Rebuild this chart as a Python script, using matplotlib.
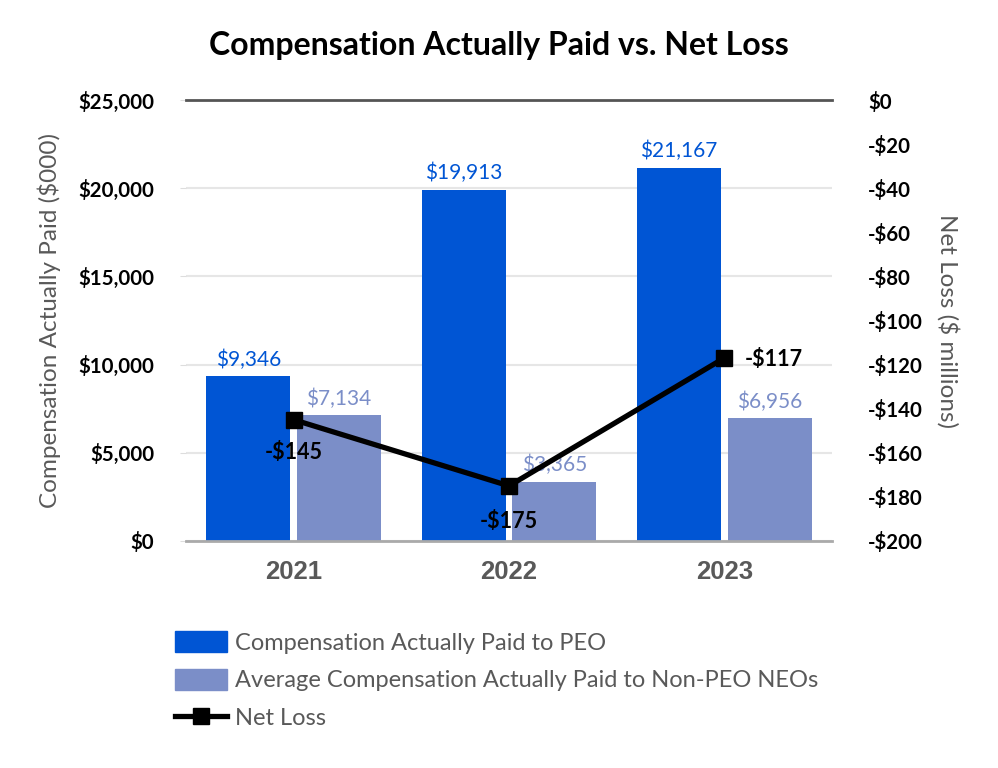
import matplotlib
matplotlib.use("Agg")
import matplotlib.pyplot as plt
import numpy as np
from matplotlib.lines import Line2D
from matplotlib.patches import Patch

years = ["2021", "2022", "2023"]
peo_cap = [9346, 19913, 21167]
neo_cap = [7134, 3365, 6956]
net_loss = [-145, -175, -117]
left_ticks = [0, 5000, 10000, 15000, 20000, 25000]
right_ticks = [0, -20, -40, -60, -80, -100, -120, -140, -160, -180, -200]

BLUE = "#0055D4"
LIGHT = "#7B8EC8"
GRAY = "#595959"

plt.rcParams['font.family'] = ['Lato', 'DejaVu Sans']

fig = plt.figure(figsize=(9.98, 7.68), dpi=100)
ax = fig.add_axes([186/998, 1-541/768, 646/998, 441/768])
x = np.arange(len(years))
w = 0.39
off = 0.21
ax.bar(x - off, peo_cap, w, color=BLUE, zorder=2)
ax.bar(x + off, neo_cap, w, color=LIGHT, zorder=2)
ax.set_xlim(-0.5, 2.5)
ax.set_ylim(0, 25000)
ax.set_yticks(left_ticks)
ax.set_yticklabels([f"${v:,}" for v in left_ticks], fontsize=14.8, fontweight='bold', color='black')
ax.tick_params(axis='y', length=4, color='#dddddd', pad=19)
ax.set_xticks(x)
ax.set_xticklabels(years, fontsize=18.5, fontweight='bold', color=GRAY, family=['Liberation Sans', 'DejaVu Sans'])
ax.tick_params(axis='x', length=0, pad=14)
ax.grid(axis='y', color='#e6e6e6', linewidth=1.5, zorder=0)
ax.set_axisbelow(True)
for s in ['left', 'right', 'top']:
    ax.spines[s].set_visible(False)
ax.spines['bottom'].set_color('#aaaaaa')
ax.spines['bottom'].set_linewidth(2)
ax.set_ylabel("Compensation Actually Paid ($000)", fontsize=17.5, color=GRAY, labelpad=12)

for xi, v in zip(x, peo_cap):
    ax.text(xi - off, v + 350, f"${v:,}", ha='center', va='bottom', fontsize=15, color=BLUE)
for xi, v in zip(x, neo_cap):
    ax.text(xi + off, v + 350, f"${v:,}", ha='center', va='bottom', fontsize=15, color=LIGHT)

ax2 = ax.twinx()
ax2.set_ylim(-200, 0)
ax2.plot(x, net_loss, color='black', linewidth=3.8, marker='s', markersize=11, zorder=5)
ax2.set_yticks(right_ticks)
ax2.set_yticklabels([f"-${-v}" if v < 0 else "$0" for v in right_ticks], fontsize=14.8, fontweight='bold', color='black')
ax2.tick_params(axis='y', length=0, pad=26)
for s in ['left', 'right', 'bottom']:
    ax2.spines[s].set_visible(False)
ax2.spines['top'].set_color('#555555')
ax2.spines['top'].set_linewidth(2)
ax2.set_ylabel("Net Loss ($ millions)", fontsize=17.5, color=GRAY, rotation=270, labelpad=26)

ax2.annotate(f"-${-net_loss[0]}", (x[0], net_loss[0]), xytext=(0, -33), textcoords='offset pixels',
             ha='center', va='center', fontsize=15.5, color='black', fontweight='bold')
ax2.annotate(f"-${-net_loss[1]}", (x[1], net_loss[1]), xytext=(0, -36), textcoords='offset pixels',
             ha='center', va='center', fontsize=15.5, color='black', fontweight='bold')
ax2.annotate(f"-${-net_loss[2]}", (x[2], net_loss[2]), xytext=(20, -2), textcoords='offset pixels',
             ha='left', va='center', fontsize=15.5, color='black', fontweight='bold')

fig.text(0.5, 1-45/768, "Compensation Actually Paid vs. Net Loss", ha='center', va='center',
         fontsize=23, fontweight='bold', color='black')

handles = [Patch(color=BLUE), Patch(color=LIGHT),
           Line2D([0], [0], color='black', linewidth=3.8, marker='s', markersize=11)]
labels = ["Compensation Actually Paid to PEO", "Average Compensation Actually Paid to Non-PEO NEOs", "Net Loss"]
leg = fig.legend(handles, labels, loc='upper left', bbox_to_anchor=(154/998, 1-610/768), frameon=False,
                 fontsize=17, handlelength=2.2, handleheight=1.0, labelspacing=0.63, handletextpad=0.35)
for t in leg.get_texts():
    t.set_color(GRAY)

fig.savefig("out.png", dpi=100)
